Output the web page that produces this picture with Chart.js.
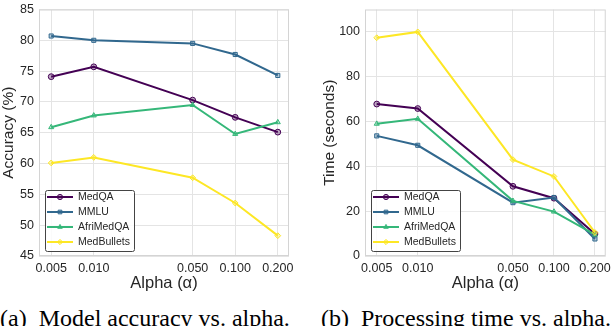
<!DOCTYPE html>
<html>
<head>
<meta charset="utf-8">
<script src="https://cdn.jsdelivr.net/npm/chart.js@4.4.1/dist/chart.umd.min.js"></script>
<style>
  html, body { margin: 0; padding: 0; background: #fff; overflow: hidden; }
  body { width: 616px; height: 326px; position: relative; }
  canvas { position: absolute; top: -3px; }
  #accChart { left: 0; }
  #timeChart { left: 306px; }
  .cap { position: absolute; top: 306px; font-family: "Liberation Serif", serif; font-size: 24px; line-height: 24px; white-space: nowrap; color: #000; }
</style>
</head>
<body>
<canvas id="accChart" width="306" height="303"></canvas>
<canvas id="timeChart" width="310" height="303"></canvas>
<div class="cap" style="left:0">(a)&nbsp; Model accuracy vs. alpha.</div>
<div class="cap" style="left:321px">(b)&nbsp; Processing time vs. alpha.</div>
<script>
const alphas = [0.005, 0.01, 0.05, 0.1, 0.2];
const seriesNames = ['MedQA', 'MMLU', 'AfriMedQA', 'MedBullets'];
const seriesColors = ['#440154', '#31688e', '#35b779', '#fde725'];
const seriesMarkers = ['circle', 'rect', 'triangle', 'rectRot'];

const accMedQA = [74.1, 75.7, 70.3, 67.5, 65.1];
const accMMLU = [80.7, 80.0, 79.5, 77.7, 74.3];
const accAfriMedQA = [65.9, 67.8, 69.5, 64.8, 66.7];
const accMedBullets = [60.1, 61.0, 57.7, 53.6, 48.3];

const timeMedQA = [67.8, 65.8, 31.1, 25.8, 9.8];
const timeMMLU = [53.6, 49.4, 23.8, 26.1, 7.6];
const timeAfriMedQA = [59.0, 61.2, 24.6, 19.8, 9.5];
const timeMedBullets = [97.4, 100.0, 43.0, 35.5, 10.5];

const accTicks = [45, 50, 55, 60, 65, 70, 75, 80, 85];
const timeTicks = [0, 20, 40, 60, 80, 100];

const tickFont = { family: 'Liberation Sans', size: 12.5 };
const textColor = '#262626';

function hexAlpha(hex, a) {
  const n = parseInt(hex.slice(1), 16);
  return `rgba(${n >> 16}, ${(n >> 8) & 255}, ${n & 255}, ${a})`;
}

function buildDatasets(seriesValues) {
  return seriesValues.map((vals, i) => ({
    label: seriesNames[i],
    data: alphas.map((a, j) => ({ x: a, y: vals[j] })),
    borderColor: seriesColors[i],
    backgroundColor: hexAlpha(seriesColors[i], 0.35),
    pointBorderColor: seriesColors[i],
    pointBackgroundColor: hexAlpha(seriesColors[i], 0.35),
    pointStyle: seriesMarkers[i],
    pointRadius: 2.9,
    pointBorderWidth: 1,
    borderWidth: 2,
    order: seriesValues.length - 1 - i
  }));
}

// light grey box round the plot area
const framePlugin = {
  id: 'frame',
  beforeDatasetsDraw(chart) {
    const { ctx, chartArea: a } = chart;
    ctx.save();
    ctx.strokeStyle = '#d4d4d4';
    ctx.lineWidth = 1;
    ctx.strokeRect(a.left + 0.5, a.top + 0.5, a.right - a.left - 1, a.bottom - a.top - 1);
    ctx.restore();
  }
};

const titlesPlugin = {
  id: 'titles',
  afterDraw(chart, args, opts) {
    const { ctx, chartArea: a } = chart;
    ctx.save();
    ctx.fillStyle = textColor;
    ctx.textAlign = 'center';
    ctx.textBaseline = 'middle';
    ctx.font = '16.5px "Liberation Sans"';
    ctx.fillText(opts.x, (a.left + a.right) / 2, a.bottom + 27);
    ctx.font = '15.5px "Liberation Sans"';
    ctx.translate(a.left - opts.yOffset, (a.top + a.bottom) / 2);
    ctx.rotate(-Math.PI / 2);
    ctx.fillText(opts.y, 0, 0);
    ctx.restore();
  }
};

const boxLegendPlugin = {
  id: 'boxLegend',
  afterDraw(chart, args, opts) {
    const { ctx, chartArea: a } = chart;
    const sets = chart.data.datasets;
    const rowH = 15, w = 89, h = 61;
    const x0 = a.left + opts.dx, y0 = a.bottom - opts.dy - h;
    ctx.save();
    ctx.beginPath();
    ctx.roundRect(x0 + 0.5, y0 + 0.5, w, h, 2);
    ctx.fillStyle = 'rgba(255,255,255,0.85)';
    ctx.fill();
    ctx.strokeStyle = '#444';
    ctx.lineWidth = 1;
    ctx.stroke();
    ctx.font = '10.5px "Liberation Sans"';
    ctx.textBaseline = 'middle';
    sets.forEach((ds, i) => {
      const y = y0 + 7 + i * rowH;
      ctx.strokeStyle = ds.borderColor;
      ctx.lineWidth = 2;
      ctx.beginPath();
      ctx.moveTo(x0 + 2, y);
      ctx.lineTo(x0 + 28, y);
      ctx.stroke();
      ctx.fillStyle = ds.pointBackgroundColor;
      ctx.strokeStyle = ds.pointBorderColor;
      ctx.lineWidth = 1;
      Chart.helpers.drawPoint(ctx, { pointStyle: ds.pointStyle, radius: 2.6, borderWidth: 1, rotation: 0 }, x0 + 15, y);
      ctx.fillStyle = textColor;
      ctx.fillText(ds.label, x0 + 33, y + 0.5);
    });
    ctx.restore();
  }
};

function makeChart(canvasId, seriesValues, yMin, yMax, yTicks, yTitle, yAxisWidth, yOffset, padding) {
  return new Chart(document.getElementById(canvasId), {
    type: 'line',
    data: { datasets: buildDatasets(seriesValues) },
    plugins: [framePlugin, titlesPlugin, boxLegendPlugin],
    options: {
      responsive: false,
      animation: false,
      layout: { padding },
      plugins: {
        legend: { display: false },
        tooltip: { enabled: false },
        titles: { x: 'Alpha (\u03b1)', y: yTitle, yOffset },
        boxLegend: { dx: 6, dy: 5 }
      },
      scales: {
        x: {
          type: 'logarithmic',
          min: 0.0041,
          max: 0.24,
          afterBuildTicks: (scale) => { scale.ticks = alphas.map(v => ({ value: v })); },
          afterFit: (scale) => { scale.height = 44; },
          ticks: {
            autoSkip: false,
            maxRotation: 0,
            padding: 5,
            color: textColor,
            font: tickFont,
            callback: (v) => Number(v).toFixed(3)
          },
          grid: { color: '#e4e4e4', drawTicks: false },
          border: { display: false }
        },
        y: {
          min: yMin,
          max: yMax,
          afterBuildTicks: (scale) => { scale.ticks = yTicks.map(v => ({ value: v })); },
          afterFit: (scale) => { scale.width = yAxisWidth; },
          ticks: { padding: 5, color: textColor, font: tickFont },
          grid: { color: '#e4e4e4', drawTicks: false },
          border: { display: false }
        }
      }
    }
  });
}

makeChart('accChart', [accMedQA, accMMLU, accAfriMedQA, accMedBullets], 45, 85, accTicks,
  'Accuracy (%)', 39, 30, { top: 8, right: 17, left: 0, bottom: 0 });
makeChart('timeChart', [timeMedQA, timeMMLU, timeAfriMedQA, timeMedBullets], 0, 110, timeTicks,
  'Time (seconds)', 59, 35, { top: 4, right: 9, left: 0, bottom: 0 });
</script>
</body>
</html>
